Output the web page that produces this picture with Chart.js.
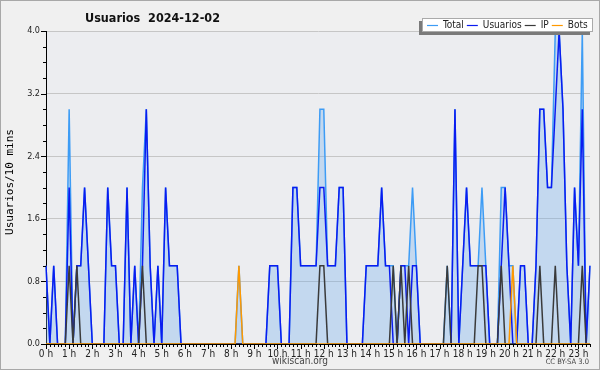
<!DOCTYPE html>
<html><head><meta charset="utf-8">
<script src="https://cdn.jsdelivr.net/npm/chart.js@4"></script>
<style>html,body{margin:0;padding:0;background:#f0f0f0;}canvas{display:block}</style>
</head><body>
<canvas id="c" width="600" height="370"></canvas>
<script>
// 10-minute slots, 0:00 .. 23:30
const timeLabels = [];
for (let h = 0; h < 24; h++) for (let m = 0; m < 60; m += 10) timeLabels.push(h + ':' + String(m).padStart(2, '0'));
timeLabels.length = 142;

const total = [
1,0,1,0,0,0,3,0,1,1, 2,1,0,0,0,0,2,1,1,0, 0,2,0,1,0,2,3,1,0,1, 0,2,1,1,1,0,0,0,0,0,
0,0,0,0,0,0,0,0,0,0, 1,0,0,0,0,0,0,0,1,1, 1,0,0,0,2,2,1,1,1,1, 1,3,3,1,1,1,2,2,0,0,
0,0,0,1,1,1,1,2,1,1, 1,0,1,1,1,2,1,0,0,0, 0,0,0,0,1,0,3,0,1,2, 1,1,1,2,1,0,0,0,2,2,
1,1,0,1,1,0,0,1,3,3, 2,2,4,4,3,1,0,2,1,4, 0,1];
const usuarios = [
1,0,1,0,0,0,2,0,1,1, 2,1,0,0,0,0,2,1,1,0, 0,2,0,1,0,1,3,1,0,1, 0,2,1,1,1,0,0,0,0,0,
0,0,0,0,0,0,0,0,0,0, 0,0,0,0,0,0,0,0,1,1, 1,0,0,0,2,2,1,1,1,1, 1,2,2,1,1,1,2,2,0,0,
0,0,0,1,1,1,1,2,1,1, 0,0,1,1,0,1,1,0,0,0, 0,0,0,0,0,0,3,0,1,2, 1,1,1,1,1,0,0,0,1,2,
1,0,0,1,1,0,0,1,3,3, 2,2,3,4,3,1,0,2,1,3, 0,1];
const ip = [
0,0,0,0,0,0,1,0,1,0, 0,0,0,0,0,0,0,0,0,0, 0,0,0,0,0,1,0,0,0,0, 0,0,0,0,0,0,0,0,0,0,
0,0,0,0,0,0,0,0,0,0, 0,0,0,0,0,0,0,0,0,0, 0,0,0,0,0,0,0,0,0,0, 0,1,1,0,0,0,0,0,0,0,
0,0,0,0,0,0,0,0,0,0, 1,0,1,0,1,0,0,0,0,0, 0,0,0,0,1,0,0,0,0,0, 0,0,1,1,0,0,0,0,1,0,
0,0,0,0,0,0,0,0,1,0, 0,0,1,0,0,0,0,0,0,1, 0,0];
const bots = [
0,0,0,0,0,0,0,0,0,0, 0,0,0,0,0,0,0,0,0,0, 0,0,0,0,0,0,0,0,0,0, 0,0,0,0,0,0,0,0,0,0,
0,0,0,0,0,0,0,0,0,0, 1,0,0,0,0,0,0,0,0,0, 0,0,0,0,0,0,0,0,0,0, 0,0,0,0,0,0,0,0,0,0,
0,0,0,0,0,0,0,0,0,0, 0,0,0,0,0,0,0,0,0,0, 0,0,0,0,0,0,0,0,0,0, 0,0,0,0,0,0,0,0,0,0,
0,1,0,0,0,0,0,0,0,0, 0,0,0,0,0,0,0,0,0,0, 0,0];
const yTicks = [0, 0.8, 1.6, 2.4, 3.2, 4.0];
const titleText = 'Usuarios  2024-12-02';
const yTitle = 'Usuarios/10 mins';

const PLOT_BG = '#ecedf0';
const FONT = '"DejaVu Sans Condensed", "DejaVu Sans"';

const decor = {
  id: 'decor',
  beforeDraw(chart) {
    const ctx = chart.ctx, a = chart.chartArea;
    ctx.save();
    ctx.fillStyle = '#f0f0f0';
    ctx.fillRect(0, 0, 600, 370);
    ctx.strokeStyle = '#a8a8a8';
    ctx.lineWidth = 1;
    ctx.strokeRect(0.5, 0.5, 599, 369);
    ctx.fillStyle = PLOT_BG;
    ctx.fillRect(a.left, a.top, a.right - a.left, a.bottom - a.top);
    ctx.restore();
  },
  afterDraw(chart) {
    const ctx = chart.ctx, a = chart.chartArea;
    const xs = chart.scales.x, ys = chart.scales.y;
    ctx.save();
    ctx.strokeStyle = '#000';
    ctx.lineWidth = 1;
    ctx.beginPath();
    for (let i = 0; i < timeLabels.length; i++) {
      const px = Math.round(xs.getPixelForValue(i)) + 0.5;
      const len = i % 6 === 0 ? 5 : 3;
      ctx.moveTo(px, a.bottom); ctx.lineTo(px, a.bottom + len);
    }
    for (let k = 0; k <= 20; k++) {
      const v = k * 0.2;
      const py = Math.round(ys.getPixelForValue(v)) + 0.5;
      const len = k % 4 === 0 ? 5 : 3;
      ctx.moveTo(a.left, py); ctx.lineTo(a.left - len, py);
    }
    ctx.stroke();

    // title
    ctx.fillStyle = '#111';
    ctx.font = 'bold 12.5px ' + FONT;
    ctx.textBaseline = 'alphabetic';
    ctx.textAlign = 'left';
    ctx.fillText(titleText, 85, 22);

    // y title
    ctx.save();
    ctx.translate(10, 182);
    ctx.rotate(-Math.PI / 2);
    ctx.font = '11px "DejaVu Sans Mono"';
    ctx.textAlign = 'center';
    ctx.textBaseline = 'middle';
    ctx.fillStyle = '#000';
    ctx.fillText(yTitle, 0, 0);
    ctx.restore();

    // footer
    ctx.fillStyle = '#444';
    ctx.font = '10px ' + FONT;
    ctx.textAlign = 'center';
    ctx.textBaseline = 'middle';
    ctx.fillText('wikiscan.org', 300, 361);
    ctx.font = '7.5px ' + FONT;
    ctx.textAlign = 'right';
    ctx.fillText('CC BY-SA 3.0', 589, 362);

    // legend
    const bx = 422, by = 18, bw = 171, bh = 14;
    ctx.fillStyle = '#7a7a7a';
    ctx.fillRect(bx - 3, by + 3, bw, bh);
    ctx.fillStyle = '#fff';
    ctx.fillRect(bx, by, bw, bh);
    ctx.strokeStyle = '#aaa';
    ctx.strokeRect(bx + 0.5, by + 0.5, bw - 1, bh - 1);
    ctx.font = '10px ' + FONT;
    ctx.textAlign = 'left';
    ctx.textBaseline = 'middle';
    let x = bx + 5;
    const cy = by + bh / 2 + 0.5;
    chart.data.datasets.forEach(ds => {
      ctx.strokeStyle = ds.borderColor;
      ctx.lineWidth = 1.2;
      ctx.beginPath();
      ctx.moveTo(x, cy); ctx.lineTo(x + 11, cy);
      ctx.stroke();
      x += 16;
      ctx.fillStyle = '#222';
      ctx.fillText(ds.label, x, cy);
      x += ctx.measureText(ds.label).width + 3;
    });
    ctx.restore();
  }
};

new Chart(document.getElementById('c'), {
  type: 'line',
  data: {
    labels: timeLabels,
    datasets: [
      { label: 'Total', data: total, borderColor: '#3d9cf5', backgroundColor: 'rgba(110,170,235,0.32)', fill: 'origin', order: 4 },
      { label: 'Usuarios', data: usuarios, borderColor: '#0a1cf0', fill: false, order: 3 },
      { label: 'IP', data: ip, borderColor: '#3a3a3a', fill: false, order: 2 },
      { label: 'Bots', data: bots, borderColor: '#ff9900', fill: false, order: 1 }
    ]
  },
  options: {
    responsive: false,
    animation: false,
    devicePixelRatio: 1,
    layout: { padding: { left: 0, right: 10, top: 31, bottom: 0 } },
    elements: { point: { radius: 0 }, line: { borderWidth: 1.5, tension: 0 } },
    plugins: { legend: { display: false }, tooltip: { enabled: false }, title: { display: false } },
    scales: {
      x: {
        type: 'category',
        offset: false,
        grid: { display: true, drawOnChartArea: false, drawTicks: false, color: 'transparent' },
        border: { display: true, color: '#000', width: 1 },
        ticks: {
          autoSkip: false, maxRotation: 0, padding: 4,
          font: { family: FONT, size: 10 }, color: '#222',
          callback: (v, i) => (i % 6 === 0 ? (i / 6) + ' h' : null)
        },
        afterFit: s => { s.height = 26; }
      },
      y: {
        min: 0, max: 4,
        afterBuildTicks: s => { s.ticks = yTicks.map(v => ({ value: v })); },
        grid: { drawTicks: false, color: c => (c.tick && c.tick.value === 0 ? 'transparent' : '#c6c6c6') },
        border: { display: true, color: '#000', width: 1 },
        ticks: {
          padding: 6,
          font: { family: FONT, size: 9 }, color: '#222',
          callback: v => Number(v).toFixed(1)
        },
        afterFit: s => { s.width = 46; }
      }
    }
  },
  plugins: [decor]
});
</script>
</body></html>
